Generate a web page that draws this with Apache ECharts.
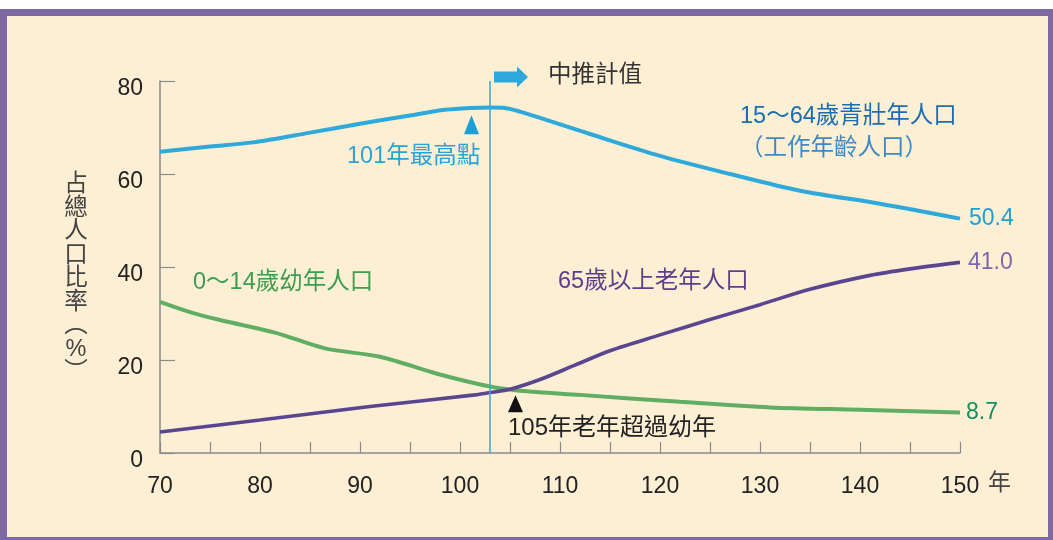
<!DOCTYPE html>
<html><head><meta charset="utf-8">
<script src="https://cdn.jsdelivr.net/npm/echarts/dist/echarts.min.js"></script>
<style>html,body{margin:0;padding:0;background:#fff}#c{width:1053px;height:540px}</style>
</head><body><div id="c"></div>
<script>
// ---- data ----
const xTickLabels = [70, 80, 90, 100, 110, 120, 130, 140, 150];
const yTickLabels = [0, 20, 40, 60, 80];

const workYears  = [70, 75, 79.3, 85, 90, 95, 98.5, 101, 103, 104.5, 106, 113, 120, 127, 134, 142, 150];
const workValues = [64.8, 65.9, 66.8, 68.9, 70.8, 72.6, 73.8, 74.2, 74.3, 74.2, 73.4, 68.6, 63.9, 60.0, 56.4, 53.6, 50.4];

const childYears  = [70, 73, 76, 81.5, 86.5, 92, 97.8, 103, 106, 112, 122, 131, 140, 150];
const childValues = [32.5, 30.3, 28.6, 25.9, 22.5, 20.7, 17.0, 14.3, 13.4, 12.5, 11.0, 9.8, 9.3, 8.7];

const oldYears  = [70, 80, 91, 101.5, 103, 105, 108, 111.5, 115, 120, 125, 130, 135, 141, 145, 150];
const oldValues = [4.5, 7.1, 10.0, 12.5, 13.0, 13.7, 15.8, 18.9, 22.0, 25.4, 28.7, 31.9, 35.2, 38.2, 39.6, 41.0];

const projectionStart = 103;
const peakMarker = [101.15, 70.6];
const crossMarker = [105.55, 10.6];

const zip = (xs, ys) => xs.map((x, i) => [x, ys[i]]);
const FONT = "'Liberation Sans', 'Noto Sans CJK TC', sans-serif";
const font = (s) => s + 'px ' + FONT;

const chart = echarts.init(document.getElementById('c'), null, {renderer: 'canvas'});

const txt = (text, x, y, size, color) => ({
  type: 'text', x: x, y: y, z: 10,
  style: {text: text, fill: color, font: font(size), verticalAlign: 'middle', align: 'left'}
});

const option = {
  animation: false,
  backgroundColor: '#ffffff',
  grid: {left: 160, top: 81, width: 800, height: 372, containLabel: false},
  xAxis: {
    type: 'value', min: 70, max: 150, interval: 5,
    axisLine: {show: true, lineStyle: {color: '#8a8a8a', width: 1.5}},
    axisTick: {show: true, inside: true, length: 11, lineStyle: {color: '#8a8a8a', width: 1.2}},
    axisLabel: {
      formatter: v => xTickLabels.includes(v) ? String(v) : '',
      margin: 22, fontSize: 23, color: '#222', fontFamily: FONT, showMaxLabel: true, showMinLabel: true
    },
    splitLine: {show: false}
  },
  yAxis: {
    type: 'value', min: 0, max: 80, interval: 20,
    axisLine: {show: true, lineStyle: {color: '#8a8a8a', width: 1.5}},
    axisTick: {show: true, inside: true, length: 15, lineStyle: {color: '#8a8a8a', width: 1.2}},
    axisLabel: {
      formatter: v => yTickLabels.includes(v) ? String(v) : '',
      margin: 17, fontSize: 23, color: '#222', fontFamily: FONT,
      verticalAlign: 'top', lineHeight: 15
    },
    splitLine: {show: false}
  },
  series: [
    {
      name: '15～64歲青壯年人口', type: 'line', data: zip(workYears, workValues),
      symbol: 'none', smooth: 0.3, z: 4,
      lineStyle: {color: '#2fa9d9', width: 4}, itemStyle: {color: '#2fa9d9'},
      endLabel: {show: true, formatter: p => p.value[1].toFixed(1), color: '#1c9fd8', fontSize: 23, distance: 9, fontFamily: FONT},
      markLine: {
        silent: true, symbol: 'none', label: {show: false}, animation: false,
        lineStyle: {color: '#36a8d8', width: 1.5, type: 'solid'},
        data: [[{coord: [projectionStart, 0]}, {coord: [projectionStart, 80]}]]
      },
      markPoint: {
        symbol: 'triangle', symbolSize: [15, 19], silent: true, animation: false,
        itemStyle: {color: '#1b9fd6'}, label: {show: false},
        data: [{coord: peakMarker}]
      }
    },
    {
      name: '0～14歲幼年人口', type: 'line', data: zip(childYears, childValues),
      symbol: 'none', smooth: 0.3, z: 3,
      lineStyle: {color: '#60ad64', width: 4}, itemStyle: {color: '#60ad64'},
      endLabel: {show: true, formatter: p => p.value[1].toFixed(1), color: '#108f5c', fontSize: 23, distance: 6, fontFamily: FONT},
      markPoint: {
        symbol: 'triangle', symbolSize: [15, 17], silent: true, animation: false,
        itemStyle: {color: '#111111'}, label: {show: false},
        data: [{coord: crossMarker}]
      }
    },
    {
      name: '65歲以上老年人口', type: 'line', data: zip(oldYears, oldValues),
      symbol: 'none', smooth: 0.3, z: 3,
      lineStyle: {color: '#5b4490', width: 3.6}, itemStyle: {color: '#5b4490'},
      endLabel: {show: true, formatter: p => p.value[1].toFixed(1), color: '#7c67a9', fontSize: 23, distance: 8, fontFamily: FONT}
    }
  ],
  graphic: [
    {type: 'rect', z: -10, shape: {x: 0, y: 9, width: 1053, height: 531}, style: {fill: '#7e69a5'}},
    {type: 'rect', z: -9, shape: {x: 7, y: 16, width: 1041, height: 521}, style: {fill: '#fdefd4'}},
    {type: 'polygon', z: 10, shape: {points: [[494, 71.5], [517, 71.5], [517, 66.5], [528, 77], [517, 87.5], [517, 82.5], [494, 82.5]]}, style: {fill: '#2ea8d8'}},
    txt('中推計值', 548, 76, 23.5, '#333333'),
    txt('101年最高點', 347, 157, 23.5, '#2aa3d6'),
    txt('15～64歲青壯年人口', 740, 117, 23.5, '#1a6db4'),
    txt('（工作年齡人口）', 740, 149, 23.5, '#3e88c5'),
    txt('0～14歲幼年人口', 193, 283, 23.5, '#3d9c4f'),
    txt('65歲以上老年人口', 558, 282, 23.5, '#5b3f8c'),
    txt('105年老年超過幼年', 508, 428, 24, '#222222'),
    txt('年', 988, 484, 23, '#444444'),
    {
      type: 'text', x: 76, y: 279, z: 10,
      style: {
        text: '占\n總\n人\n口\n比\n率\n︵\n%\n︶', fill: '#444444', font: font(23.5),
        lineHeight: 23.5, align: 'center', verticalAlign: 'middle'
      }
    }
  ]
};
chart.setOption(option);
</script>
</body></html>
